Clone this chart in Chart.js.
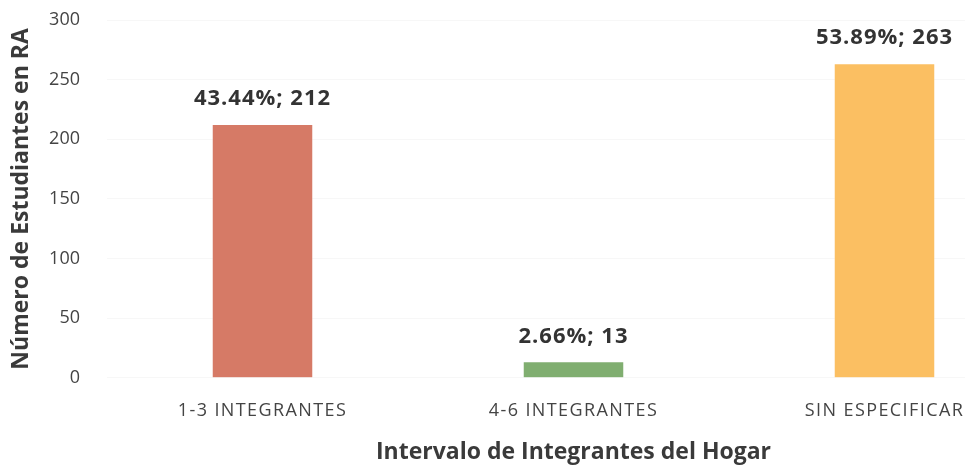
<!DOCTYPE html>
<html><head><meta charset="utf-8">
<script src="https://cdn.jsdelivr.net/npm/chart.js@4/dist/chart.umd.min.js"></script>
<style>
html,body{margin:0;padding:0;background:#fff;overflow:hidden;width:965px;height:466px}
#wrap{width:1045px;height:466px;position:relative}
</style></head>
<body><div id="wrap"><canvas id="c"></canvas></div>
<script>
const categories = ["1-3 INTEGRANTES", "4-6 INTEGRANTES", "SIN ESPECIFICAR"];
const values = [212, 13, 263];
const percentLabels = ["43.44%", "2.66%", "53.89%"];
const barColors = ["#D67A66", "#80AE70", "#FBBF62"];
const yTicks = [0, 50, 100, 150, 200, 250, 300];

const FONT = '"Open Sans", Lato, sans-serif';

const labelPlugin = {
  id: 'barLabels',
  afterLayout(chart) {
    const sx = chart.scales.x;
    if (sx && !sx._spacedPatch) {
      const orig = sx.drawLabels.bind(sx);
      sx.drawLabels = function (area) {
        const ctx = this.ctx;
        ctx.save();
        ctx.letterSpacing = '1.4px';
        orig(area);
        ctx.restore();
      };
      sx._spacedPatch = true;
    }
  },
  afterDatasetsDraw(chart) {
    const ctx = chart.ctx;
    const meta = chart.getDatasetMeta(0);
    ctx.save();
    ctx.font = 'bold 22px ' + FONT;
    ctx.letterSpacing = '1px';
    ctx.fillStyle = '#333333';
    ctx.textAlign = 'center';
    ctx.textBaseline = 'middle';
    meta.data.forEach((bar, i) => {
      ctx.fillText(percentLabels[i] + '; ' + values[i], bar.x, bar.y - 26);
    });
    ctx.restore();
  }
};

new Chart(document.getElementById('c'), {
  type: 'bar',
  data: {
    labels: categories,
    datasets: [{
      data: values,
      backgroundColor: barColors,
      borderWidth: 0,
      barPercentage: 0.8,
      categoryPercentage: 0.4
    }]
  },
  options: {
    responsive: true,
    maintainAspectRatio: false,
    animation: false,
    layout: { padding: { left: 8, right: 5, top: 20, bottom: 0 } },
    plugins: { legend: { display: false }, tooltip: { enabled: false } },
    scales: {
      x: {
        grid: { display: false },
        border: { display: false },
        ticks: { color: '#444', font: { family: FONT, size: 18 }, padding: 14 },
        title: { display: true, text: 'Intervalo de Integrantes del Hogar', color: '#3a3a3a',
                 font: { family: FONT, size: 23, weight: 'bold' }, padding: { top: 3, bottom: 0 } }
      },
      y: {
        min: 0, max: 300,
        afterBuildTicks(axis) { axis.ticks = yTicks.map(v => ({ value: v })); },
        afterFit(axis) { axis.width = 99; axis.paddingTop = 0; axis.paddingBottom = 0; },
        grid: { color: 'rgba(0,0,0,0.03)', drawTicks: false },
        border: { display: false },
        ticks: { color: '#444', font: { family: FONT, size: 18 }, padding: 27 },
        title: { display: true, text: 'Número de Estudiantes en RA', color: '#3a3a3a',
                 font: { family: FONT, size: 23, weight: 'bold' }, padding: { top: 0, bottom: 0 } }
      }
    }
  },
  plugins: [labelPlugin]
});
</script></body></html>
